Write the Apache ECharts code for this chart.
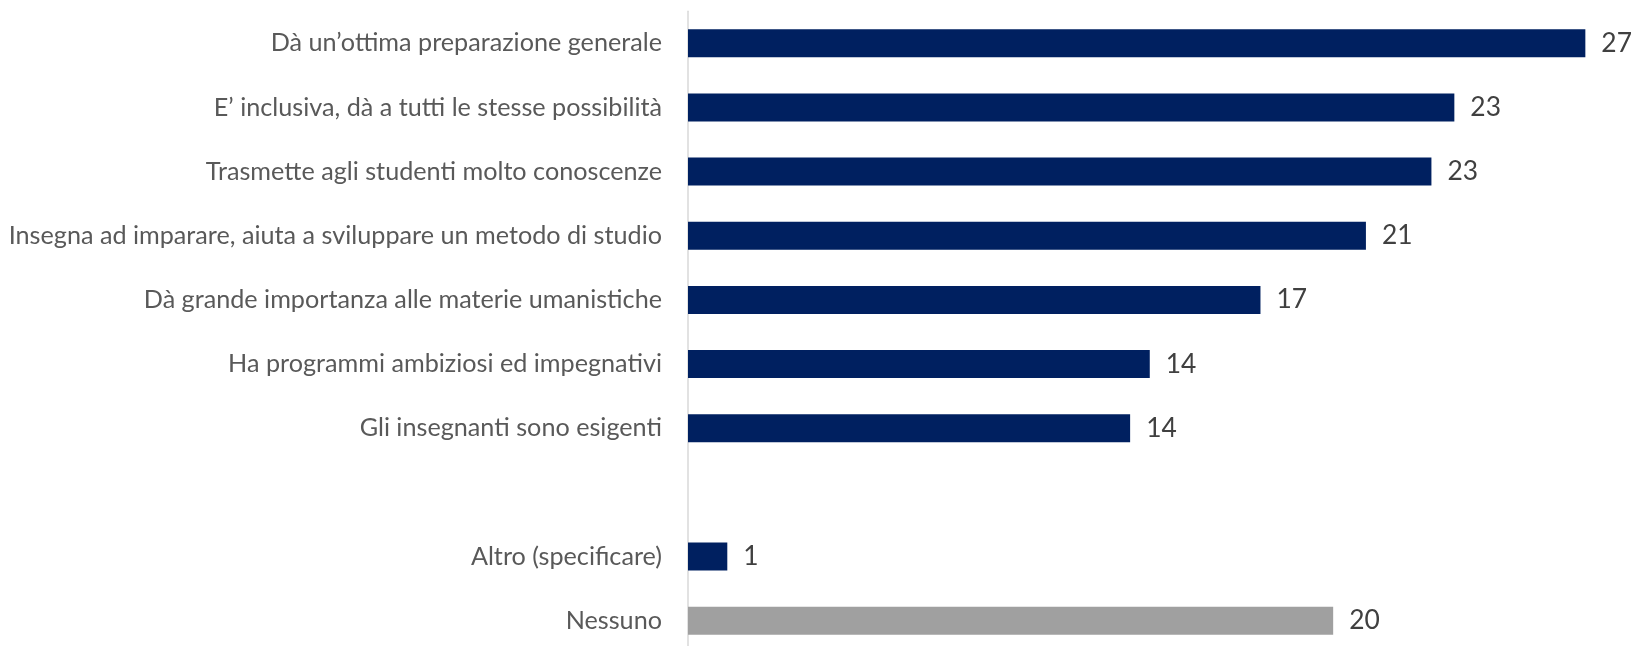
<!DOCTYPE html>
<html><head><meta charset="utf-8">
<script src="https://cdn.jsdelivr.net/npm/echarts@6/dist/echarts.min.js"></script>
<style>html,body{margin:0;padding:0;background:#fff}#c{width:1636px;height:646px}</style>
</head><body><div id="c"></div>
<script>
const categories = [
  "Dà un’ottima preparazione generale",
  "E’ inclusiva, dà a tutti le stesse possibilità",
  "Trasmette agli studenti molto conoscenze",
  "Insegna ad imparare, aiuta a sviluppare un metodo di studio",
  "Dà grande importanza alle materie umanistiche",
  "Ha programmi ambiziosi ed impegnativi",
  "Gli insegnanti sono esigenti",
  "",
  "Altro (specificare)",
  "Nessuno"
];
const values = [27.4, 23.4, 22.7, 20.7, 17.48, 14.1, 13.5, null, 1.2, 19.7];
const highlightIndex = 9; // "Nessuno" drawn in grey

const FONT = 'Lato';
const cv = document.createElement('canvas').getContext('2d');
function fitSize(text, target, base){
  cv.font = base + 'px ' + FONT;
  const w = cv.measureText(text).width;
  return Math.round(base * target / w * 10) / 10;
}
const catSize = fitSize(categories[3], 654, 24);
const valSize = fitSize("27", 30.6, 27);

const chart = echarts.init(document.getElementById('c'));
chart.setOption({
  animation: false,
  grid: {left: 688, right: 31, top: 11.2, height: 641.6, containLabel: false, outerBoundsMode: 'none'},
  xAxis: {type: 'value', min: 0, max: 28, show: false},
  yAxis: {
    type: 'category', data: categories, inverse: true,
    axisLine: {show: true, lineStyle: {color: '#d9d9d9', width: 1.5}},
    axisTick: {show: false},
    axisLabel: {color: '#595959', fontSize: catSize, fontFamily: FONT, margin: 26}
  },
  series: [{
    type: 'bar',
    barWidth: 28,
    data: values.map((v, i) => ({
      value: v,
      itemStyle: {color: i === highlightIndex ? '#a0a0a0' : '#002060'}
    })),
    label: {
      show: true, position: 'right', distance: 16,
      color: '#404040', fontSize: valSize, fontFamily: FONT,
      formatter: p => p.value == null ? '' : String(Math.round(p.value))
    }
  }]
});
</script></body></html>
